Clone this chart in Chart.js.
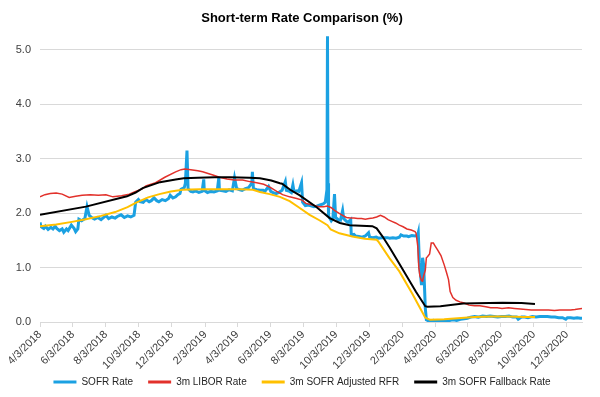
<!DOCTYPE html>
<html><head><meta charset="utf-8">
<script src="https://cdn.jsdelivr.net/npm/chart.js@4.4.0/dist/chart.umd.min.js"></script>
<style>html,body{margin:0;padding:0;background:#fff;}#wrap{width:600px;height:397px;}</style>
</head><body><div id="wrap"><canvas id="c" width="600" height="397"></canvas></div>
<script>
const chartTitle = 'Short-term Rate Comparison (%)';
const tickDates = ['2018-04-03','2018-06-03','2018-08-03','2018-10-03','2018-12-03','2019-02-03','2019-04-03','2019-06-03','2019-08-03','2019-10-03','2019-12-03','2020-02-03','2020-04-03','2020-06-03','2020-08-03','2020-10-03','2020-12-03'];
const tickLabels = ['4/3/2018','6/3/2018','8/3/2018','10/3/2018','12/3/2018','2/3/2019','4/3/2019','6/3/2019','8/3/2019','10/3/2019','12/3/2019','2/3/2020','4/3/2020','6/3/2020','8/3/2020','10/3/2020','12/3/2020'];
const yTicks = [0, 1, 2, 3, 4, 5];
const seriesNames = ['SOFR Rate', '3m LIBOR Rate', '3m SOFR Adjusted RFR', '3m SOFR Fallback Rate'];

const sofrDates = ['2018-04-03','2018-04-05','2018-04-10','2018-04-13','2018-04-18','2018-04-23','2018-04-27','2018-05-01','2018-05-04','2018-05-09','2018-05-14','2018-05-17','2018-05-22','2018-05-25','2018-05-31','2018-06-05','2018-06-08','2018-06-12','2018-06-14','2018-06-19','2018-06-25','2018-06-29','2018-07-03','2018-07-09','2018-07-13','2018-07-19','2018-07-25','2018-07-31','2018-08-03','2018-08-08','2018-08-14','2018-08-20','2018-08-24','2018-08-31','2018-09-06','2018-09-12','2018-09-18','2018-09-24','2018-09-27','2018-10-02','2018-10-05','2018-10-11','2018-10-16','2018-10-22','2018-10-26','2018-10-31','2018-11-05','2018-11-09','2018-11-15','2018-11-21','2018-11-27','2018-11-30','2018-12-05','2018-12-10','2018-12-14','2018-12-18','2018-12-20','2018-12-26','2018-12-28','2018-12-31','2019-01-02','2019-01-07','2019-01-11','2019-01-16','2019-01-22','2019-01-28','2019-01-31','2019-02-01','2019-02-07','2019-02-13','2019-02-19','2019-02-25','2019-02-28','2019-03-01','2019-03-07','2019-03-13','2019-03-19','2019-03-25','2019-03-29','2019-04-02','2019-04-08','2019-04-12','2019-04-18','2019-04-24','2019-04-30','2019-05-01','2019-05-03','2019-05-09','2019-05-15','2019-05-21','2019-05-24','2019-05-31','2019-06-04','2019-06-10','2019-06-14','2019-06-19','2019-06-25','2019-07-01','2019-07-03','2019-07-09','2019-07-12','2019-07-15','2019-07-17','2019-07-23','2019-07-26','2019-07-31','2019-08-02','2019-08-07','2019-08-13','2019-08-19','2019-08-23','2019-08-28','2019-09-03','2019-09-09','2019-09-13','2019-09-16','2019-09-17','2019-09-18','2019-09-19','2019-09-24','2019-09-27','2019-09-30','2019-10-02','2019-10-07','2019-10-11','2019-10-15','2019-10-17','2019-10-22','2019-10-25','2019-10-30','2019-10-31','2019-11-05','2019-11-08','2019-11-14','2019-11-20','2019-11-26','2019-12-02','2019-12-04','2019-12-10','2019-12-16','2019-12-20','2019-12-27','2019-12-31','2020-01-06','2020-01-10','2020-01-16','2020-01-22','2020-01-28','2020-01-31','2020-02-05','2020-02-11','2020-02-14','2020-02-20','2020-02-26','2020-03-02','2020-03-03','2020-03-05','2020-03-09','2020-03-11','2020-03-13','2020-03-16','2020-03-18','2020-03-24','2020-03-31','2020-04-06','2020-04-13','2020-04-20','2020-04-27','2020-05-01','2020-05-07','2020-05-13','2020-05-20','2020-05-27','2020-06-02','2020-06-08','2020-06-15','2020-06-22','2020-06-30','2020-07-07','2020-07-14','2020-07-21','2020-07-28','2020-08-04','2020-08-11','2020-08-18','2020-08-25','2020-09-01','2020-09-04','2020-09-10','2020-09-16','2020-09-22','2020-09-30','2020-10-07','2020-10-14','2020-10-21','2020-10-28','2020-11-04','2020-11-11','2020-11-18','2020-11-25','2020-12-01','2020-12-04','2020-12-10','2020-12-16','2020-12-22','2020-12-28','2020-12-31'];
const sofrValues = [1.83,1.75,1.72,1.76,1.70,1.74,1.71,1.76,1.72,1.68,1.71,1.65,1.71,1.68,1.78,1.72,1.66,1.71,1.89,1.86,1.90,2.12,1.96,1.91,1.89,1.92,1.88,1.93,1.96,1.90,1.93,1.91,1.94,1.97,1.92,1.95,1.93,1.96,2.20,2.25,2.21,2.20,2.25,2.21,2.23,2.28,2.23,2.21,2.25,2.23,2.27,2.33,2.28,2.30,2.34,2.36,2.44,2.47,2.55,3.15,2.45,2.40,2.39,2.41,2.38,2.40,2.62,2.42,2.38,2.40,2.39,2.41,2.66,2.42,2.41,2.40,2.43,2.41,2.65,2.45,2.43,2.42,2.45,2.47,2.55,2.76,2.45,2.43,2.42,2.42,2.40,2.49,2.40,2.37,2.36,2.38,2.42,2.58,2.42,2.40,2.38,2.52,2.40,2.41,2.40,2.56,2.20,2.14,2.15,2.13,2.12,2.13,2.15,2.17,2.20,2.43,5.25,2.55,1.95,1.86,1.90,2.35,1.92,1.88,1.87,2.05,1.90,1.85,1.83,1.88,1.60,1.61,1.58,1.57,1.56,1.58,1.64,1.56,1.55,1.56,1.54,1.55,1.55,1.55,1.54,1.55,1.54,1.56,1.60,1.58,1.58,1.57,1.59,1.58,1.60,1.64,1.10,0.68,1.18,1.05,0.26,0.04,0.01,0.03,0.02,0.01,0.02,0.01,0.03,0.04,0.03,0.05,0.06,0.07,0.09,0.10,0.09,0.11,0.10,0.11,0.10,0.09,0.10,0.10,0.11,0.09,0.09,0.05,0.09,0.09,0.08,0.10,0.09,0.10,0.10,0.10,0.09,0.09,0.08,0.08,0.05,0.08,0.08,0.07,0.08,0.07,0.07];

const liborDates = ['2018-04-03','2018-04-12','2018-04-22','2018-05-03','2018-05-14','2018-05-27','2018-06-08','2018-06-20','2018-07-05','2018-07-20','2018-08-03','2018-08-16','2018-09-01','2018-09-15','2018-09-27','2018-10-10','2018-10-16','2018-11-03','2018-11-20','2018-12-10','2018-12-20','2018-12-27','2019-01-07','2019-01-20','2019-01-29','2019-02-08','2019-02-17','2019-03-01','2019-03-15','2019-03-29','2019-04-13','2019-04-26','2019-05-09','2019-05-22','2019-06-04','2019-06-15','2019-06-26','2019-07-09','2019-07-22','2019-08-01','2019-08-08','2019-08-20','2019-09-01','2019-09-10','2019-09-17','2019-09-24','2019-09-30','2019-10-08','2019-10-15','2019-10-22','2019-10-29','2019-11-05','2019-11-12','2019-11-19','2019-11-26','2019-12-03','2019-12-10','2019-12-17','2019-12-24','2019-12-31','2020-01-07','2020-01-14','2020-01-21','2020-01-28','2020-02-04','2020-02-11','2020-02-19','2020-02-26','2020-02-28','2020-03-02','2020-03-04','2020-03-06','2020-03-09','2020-03-11','2020-03-13','2020-03-16','2020-03-18','2020-03-20','2020-03-24','2020-03-27','2020-03-31','2020-04-03','2020-04-08','2020-04-14','2020-04-20','2020-04-24','2020-04-28','2020-05-01','2020-05-06','2020-05-12','2020-05-19','2020-05-27','2020-06-05','2020-06-15','2020-06-25','2020-07-06','2020-07-15','2020-07-27','2020-08-05','2020-08-17','2020-08-28','2020-09-08','2020-09-18','2020-09-28','2020-10-08','2020-10-20','2020-10-30','2020-11-10','2020-11-20','2020-12-01','2020-12-10','2020-12-18','2020-12-24','2020-12-31'];
const liborValues = [2.30,2.34,2.36,2.37,2.35,2.29,2.31,2.33,2.34,2.33,2.34,2.30,2.32,2.35,2.40,2.45,2.50,2.56,2.66,2.76,2.80,2.81,2.80,2.78,2.76,2.73,2.70,2.66,2.63,2.61,2.61,2.58,2.56,2.53,2.47,2.40,2.34,2.30,2.27,2.24,2.18,2.15,2.12,2.12,2.13,2.10,2.05,2.00,1.96,1.92,1.91,1.91,1.90,1.90,1.89,1.90,1.91,1.93,1.96,1.93,1.88,1.85,1.82,1.78,1.75,1.71,1.69,1.66,1.63,1.40,1.00,0.85,0.76,0.75,0.85,0.95,1.18,1.20,1.25,1.45,1.45,1.40,1.32,1.22,1.05,0.92,0.78,0.56,0.45,0.40,0.37,0.35,0.31,0.30,0.30,0.28,0.26,0.26,0.25,0.26,0.25,0.24,0.23,0.22,0.22,0.22,0.22,0.21,0.22,0.22,0.22,0.23,0.24,0.25];

const adjustedDates = ['2018-04-03','2018-05-03','2018-06-01','2018-06-27','2018-07-25','2018-08-20','2018-09-12','2018-09-27','2018-10-20','2018-11-10','2018-12-01','2018-12-23','2019-01-24','2019-03-01','2019-04-08','2019-05-02','2019-05-15','2019-06-02','2019-06-21','2019-07-09','2019-07-27','2019-08-15','2019-09-02','2019-09-17','2019-09-23','2019-10-09','2019-11-02','2019-11-25','2019-12-17','2019-12-20','2020-01-10','2020-01-28','2020-02-21','2020-03-05','2020-03-16','2020-03-25','2020-04-20','2020-05-15','2020-06-15','2020-07-15','2020-08-15','2020-09-15','2020-10-05'];
const adjustedValues = [1.76,1.79,1.84,1.89,1.95,2.02,2.11,2.19,2.29,2.35,2.40,2.43,2.44,2.44,2.44,2.43,2.39,2.35,2.30,2.22,2.10,1.97,1.87,1.78,1.70,1.63,1.57,1.53,1.51,1.48,1.17,0.93,0.52,0.28,0.08,0.04,0.05,0.07,0.09,0.10,0.10,0.09,0.09];

const fallbackDates = ['2018-04-03','2018-06-27','2018-09-11','2018-09-27','2018-10-10','2018-11-11','2018-12-10','2018-12-25','2019-01-20','2019-02-20','2019-03-20','2019-04-26','2019-05-15','2019-06-05','2019-06-21','2019-06-25','2019-07-10','2019-07-27','2019-08-28','2019-09-21','2019-10-10','2019-10-28','2019-12-09','2019-12-17','2019-12-28','2020-01-10','2020-01-28','2020-02-28','2020-03-16','2020-03-20','2020-04-13','2020-05-25','2020-08-06','2020-09-10','2020-10-05'];
const fallbackValues = [1.97,2.12,2.31,2.38,2.46,2.57,2.62,2.64,2.65,2.66,2.66,2.65,2.64,2.60,2.55,2.54,2.43,2.33,2.11,1.91,1.82,1.78,1.76,1.72,1.57,1.37,1.07,0.55,0.29,0.28,0.29,0.34,0.355,0.35,0.33];

const colors = ['#1BA1E2', '#E2312B', '#FFC000', '#000000'];
const widths = [3, 1.5, 2, 2];

const origin = Date.parse('2018-04-03');
const toDay = d => (Date.parse(d) - origin) / 864e5;
const pts = (ds, vs) => ds.map((d, i) => ({x: toDay(d), y: vs[i]}));
const FONT = 'Liberation Sans, Arial, sans-serif';

const series = [pts(sofrDates, sofrValues), pts(liborDates, liborValues), pts(adjustedDates, adjustedValues), pts(fallbackDates, fallbackValues)];

const noClip = s => { s._computeLabelArea = () => undefined; };

new Chart(document.getElementById('c'), {
  type: 'line',
  data: {
    datasets: series.map((data, i) => ({
      label: seriesNames[i], data,
      borderColor: colors[i], backgroundColor: colors[i], borderWidth: widths[i],
      pointRadius: 0, tension: 0, order: 4 - i
    }))
  },
  options: {
    responsive: false, animation: false, devicePixelRatio: 1,
    layout: {padding: {left: 22, right: 18, top: 0, bottom: 0}},
    plugins: {
      tooltip: {enabled: false},
      title: {display: true, text: chartTitle, color: '#000', font: {family: FONT, size: 13, weight: 'bold'}, padding: {top: 11, bottom: 7}},
      legend: {
        position: 'bottom',
        labels: {
          boxWidth: 23, boxHeight: 3, padding: 15, color: '#262626',
          font: {family: FONT, size: 10},
          sort: (a, b) => a.datasetIndex - b.datasetIndex,
          generateLabels: (chart) => {
            const items = Chart.defaults.plugins.legend.labels.generateLabels(chart);
            items.forEach(it => { it.fillStyle = it.strokeStyle; it.lineWidth = 0; });
            return items;
          }
        }
      }
    },
    scales: {
      x: {
        type: 'linear', min: 0, max: toDay('2020-12-31'),
        afterBuildTicks: s => { s.ticks = tickDates.map(d => ({value: toDay(d)})); },
        afterFit: s => { s.height = 40; noClip(s); },
        ticks: {autoSkip: false, minRotation: 45, maxRotation: 45, padding: 1, color: '#404040',
          font: {family: FONT, size: 11}, callback: (v, i) => tickLabels[i]},
        grid: {drawOnChartArea: false, drawTicks: true, tickLength: 5, color: '#D9D9D9'},
        border: {display: true, color: '#D9D9D9'}
      },
      y: {
        min: 0, max: 5.3,
        afterBuildTicks: s => { s.ticks = yTicks.map(v => ({value: v})); },
        afterFit: s => { s.width = 18; noClip(s); },
        ticks: {padding: 9, color: '#404040', font: {family: FONT, size: 11}, callback: v => Number(v).toFixed(1)},
        grid: {color: '#D9D9D9', drawTicks: false},
        border: {display: false}
      }
    }
  }
});
</script></body></html>
